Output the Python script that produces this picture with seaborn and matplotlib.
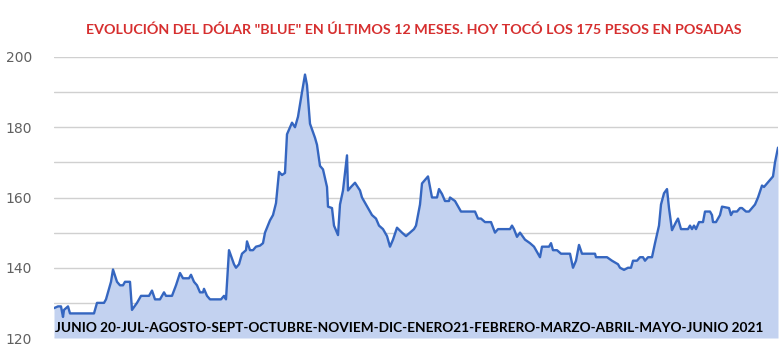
import matplotlib
matplotlib.use("Agg")
import matplotlib.pyplot as plt
import seaborn as sns
import pandas as pd

# Day index (approx. days since mid-June 2020) and blue-dollar price in pesos
day = [0, 2, 3.5, 4.5, 5, 7, 8, 20, 21.5, 25,
       26, 27, 28.5, 29.5, 31.5, 33, 34.5, 35.5, 38, 39,
       41.5, 43.5, 47.5, 49, 50.5, 53, 55, 56, 59, 61,
       63, 64.5, 67.5, 68.5, 70, 71.5, 73, 74.5, 75, 76.5,
       78, 83.5, 85, 86, 87.5, 90, 91, 92.5, 94, 96,
       96.5, 98, 99.5, 101, 103, 104.5, 105.5, 108, 109.5, 111,
       112.5, 114, 115.5, 116.5, 119, 120.5, 122, 124, 125.5, 126.5,
       128, 130.5, 131.5, 133, 134.5, 136.5, 137, 139, 140, 142,
       143, 144.5, 146.5, 147, 148.5, 150.5, 153, 154, 157, 159,
       161, 162.5, 164.5, 166.5, 168, 169.5, 171.5, 174, 176, 178,
       180, 181, 183, 184, 187, 189, 191.5, 192.5, 194, 195.5,
       197.5, 198, 200.5, 202.5, 203.5, 210.5, 212, 213.5, 215.5, 218.5,
       220.5, 222, 228, 229, 230, 231.5, 233, 235.5, 238, 240,
       243, 244, 247.5, 248.5, 249.5, 251.5, 253.5, 258, 259.5, 261,
       262.5, 264, 270.5, 271, 276.5, 279, 282, 283, 285, 287,
       288.5, 289.5, 291.5, 293, 294.5, 295.5, 297, 299, 300.5, 302.5,
       303.5, 305, 306.5, 307.5, 309, 311, 312, 313.5, 317, 318,
       319, 320, 321, 322.5, 324.5, 325.5, 328, 329, 329.5, 331,
       333, 334, 337.5, 338.5, 339.5, 341.5, 343, 344, 346, 347.5,
       349, 350.5, 352, 354, 355, 358, 359.5, 360.5, 362]
blue = [128.5, 129, 129, 126, 128, 129, 127, 127, 130, 130,
        131, 133, 136, 139.5, 136, 135, 135, 136, 136, 128,
        130, 132, 132, 133.5, 131, 131, 133, 132, 132, 135,
        138.5, 137, 137, 138, 136, 135, 133, 133, 134, 132,
        131, 131, 132, 131, 145, 141, 140, 141, 144, 145,
        147.5, 145, 145, 146, 146.3, 147, 150, 153.5, 155, 158.4,
        167.3, 166.4, 167, 178, 181.3, 180, 183, 190, 195, 192,
        181, 177, 175, 169, 168, 163, 157.4, 157, 152, 149.3,
        158, 162, 172, 162, 163, 164.2, 162, 160, 157, 155,
        154, 152, 151, 149, 146, 148, 151.4, 150, 149, 150,
        151, 152, 158, 164, 166, 160, 160, 162.4, 161, 159,
        159, 160, 159, 157, 156, 156, 154, 154, 153, 153,
        150, 151, 151, 152, 151, 148.8, 150, 148, 147, 146,
        143, 146, 146, 147, 145, 145, 144, 144, 140, 142,
        146.5, 144, 144, 143, 143, 142, 141, 140, 139.4, 140,
        140, 142, 142, 143, 143, 142, 143, 143, 147, 152,
        158, 161.2, 162.4, 157, 150.7, 153, 154, 151, 151, 152,
        151, 152, 151, 153, 153, 156, 156, 155, 153, 153,
        155, 157.4, 157, 155, 156, 156, 157, 157, 156, 156,
        157, 158, 160, 163.4, 163, 165, 166, 170, 174.2]

y_ticks = [120, 140, 160, 180, 200]
title = 'EVOLUCIÓN DEL DÓLAR "BLUE" EN ÚLTIMOS 12 MESES. HOY TOCÓ LOS 175 PESOS EN POSADAS'
months_label = "JUNIO 20-JUL-AGOSTO-SEPT-OCTUBRE-NOVIEM-DIC-ENERO21-FEBRERO-MARZO-ABRIL-MAYO-JUNIO 2021"

df = pd.DataFrame({"day": day, "blue": blue})

sns.set_theme(style="white")
plt.rcParams["font.family"] = ["Lato", "DejaVu Sans"]

fig = plt.figure(figsize=(7.81, 3.46), dpi=100)
ax = fig.add_axes([54 / 781, 1 - 338 / 346, (778 - 54) / 781, (338 - 57) / 346])

ax.fill_between(df["day"], df["blue"], 120, color="#c3d2f0", lw=0, zorder=2)
sns.lineplot(data=df, x="day", y="blue", ax=ax, color="#3566c0", lw=1.7, zorder=3)

ax.set_xlim(0, 362)
ax.set_ylim(120, 200)
ax.set_yticks(y_ticks)
ax.set_yticks(range(120, 201, 10), minor=True)
ax.yaxis.grid(True, which="both", color="#d0d0d0", lw=1.0, zorder=1)
ax.set_xticks([])
ax.set_xlabel("")
ax.set_ylabel("")
for s in ax.spines.values():
    s.set_visible(False)
ax.tick_params(axis="y", which="both", length=0, pad=16, labelsize=10, labelcolor="#606060")
for lbl in ax.get_yticklabels():
    lbl.set_fontfamily(["DejaVu Sans"])

fig.text(414 / 781, 1 - 30 / 346, title, ha="center", va="center", color="#d62f2f",
         fontsize=10.3, fontweight="bold")
ax.text(0.002, 0.035, months_label, transform=ax.transAxes, ha="left", va="center",
        color="black", fontsize=9.85, fontweight="bold", zorder=5)

fig.savefig("out.png", dpi=100)
